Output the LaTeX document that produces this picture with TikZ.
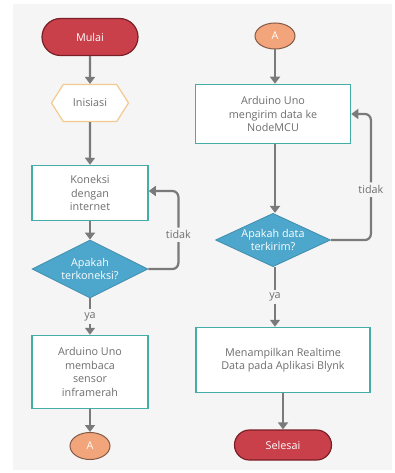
\documentclass[tikz,border=0pt]{standalone}
\usepackage{fontspec}
\setmainfont{Open Sans}
\usepackage{tikz}
\usetikzlibrary{arrows.meta, shapes.geometric, shapes.misc, shapes.symbols}
\definecolor{bg}{HTML}{F5F5F5}
\definecolor{txt}{HTML}{6E6E6E}
\definecolor{arr}{HTML}{7A7A7A}
\definecolor{termred}{HTML}{C9404A}
\definecolor{termdark}{HTML}{7A1F26}
\definecolor{prepor}{HTML}{F3C98F}
\definecolor{teal}{HTML}{45ADA8}
\definecolor{decblue}{HTML}{4DA6CB}
\definecolor{conor}{HTML}{F2A47B}

\begin{document}
\begin{tikzpicture}[
      x=1pt, y=-1pt,
      every node/.style={font=\fontsize{10.8}{13.5}\selectfont, align=center},
      terminal/.style={rounded rectangle, draw=termdark, fill=termred, line width=1.2pt, text=white, inner sep=0pt},
      prep/.style={signal, signal to=east and west, signal pointer angle=115, draw=prepor, fill=white, line width=1.2pt, text=txt, minimum width=77pt, minimum height=37pt, inner sep=0pt},
      process/.style={rectangle, draw=teal, fill=white, line width=1.5pt, text=txt, inner sep=0pt},
      decision/.style={diamond, draw=decblue!85!black, fill=decblue, line width=0.8pt, text=white, inner sep=0pt, aspect=2},
      connector/.style={ellipse, draw=conor!55!black, fill=conor, line width=1pt, text=white, minimum width=40pt, minimum height=27pt, inner sep=0pt},
      flow/.style={-{Triangle[width=10pt,length=7pt]}, draw=arr, line width=2.2pt},
      lbl/.style={fill=bg, text=txt, inner sep=3pt}
  ]
      \useasboundingbox (0,0) rectangle (395,473);
      \fill[bg] (13,4) rectangle (392,470);

      % Left column
      \node[terminal, minimum width=96pt, minimum height=37pt] (mulai) at (90,37) {Mulai};
      \node[prep] (inisiasi) at (90,103) {Inisiasi};
      \node[process, minimum width=116pt, minimum height=55pt] (koneksi) at (90,193) {Koneksi\\dengan\\internet};
      \node[decision, minimum width=116pt, minimum height=58pt] (cek1) at (90,269) {Apakah\\terkoneksi?};
      \node[process, minimum width=116pt, minimum height=73pt] (membaca) at (90,372) {Arduino Uno\\membaca\\sensor\\inframerah};
      \node[connector] (a1) at (90,446) {A};

      % Right column
      \node[connector, minimum height=26pt] (a2) at (275,36) {A};
      \node[process, minimum width=155pt, minimum height=59pt] (kirim) at (273,114) {Arduino Uno\\mengirim data ke\\NodeMCU};
      \node[decision, minimum width=115pt, minimum height=46pt] (cek2) at (273,240) {Apakah data\\terkirim?};
      \node[process, minimum width=174pt, minimum height=65pt] (tampil) at (283,360) {Menampilkan Realtime\\Data pada Aplikasi Blynk};
      \node[terminal, minimum width=97pt, minimum height=30pt] (selesai) at (283,445) {Selesai};

      % Left flow
      \draw[flow] (mulai) -- (inisiasi);
      \draw[flow] (inisiasi) -- (koneksi);
      \draw[flow] (koneksi) -- (cek1);
      \draw[flow] (cek1) -- node[lbl] {ya} (membaca);
      \draw[flow] (membaca) -- (a1);
      \draw[flow, rounded corners=6pt] (cek1.east) -- ++(30,0) |- node[lbl, pos=0.22] {tidak} ([yshift=2pt]koneksi.east);

      % Right flow
      \draw[flow] (a2) -- (a2 |- kirim.north);
      \draw[flow] (kirim.south -| a2) -- (a2 |- cek2.north);
      \draw[flow] (cek2.south -| a2) -- node[lbl] {ya} (a2 |- tampil.north);
      \draw[flow] (tampil) -- (selesai);
      \draw[flow, rounded corners=6pt] (cek2.east) -- ++(40,0) |- node[lbl, pos=0.2] {tidak} (kirim.east);

  \end{tikzpicture}
\end{document}
